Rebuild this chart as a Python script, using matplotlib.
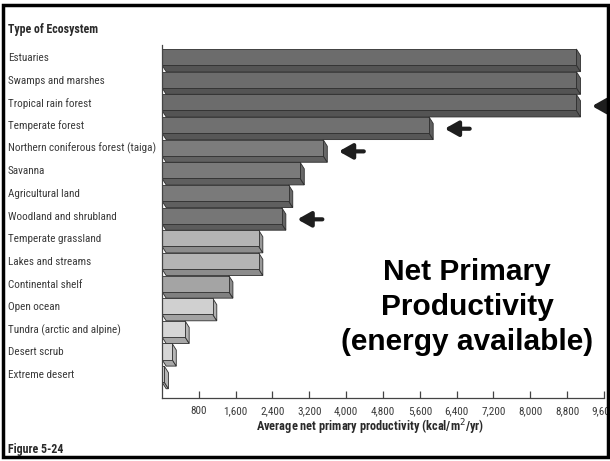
import matplotlib
matplotlib.use("Agg")
import matplotlib.pyplot as plt
from matplotlib import font_manager
from matplotlib.patches import Polygon, Rectangle

# Ecosystem types and their average net primary productivity (kcal/m^2/yr)
ecosystems = [
    "Estuaries",
    "Swamps and marshes",
    "Tropical rain forest",
    "Temperate forest",
    "Northern coniferous forest (taiga)",
    "Savanna",
    "Agricultural land",
    "Woodland and shrubland",
    "Temperate grassland",
    "Lakes and streams",
    "Continental shelf",
    "Open ocean",
    "Tundra (arctic and alpine)",
    "Desert scrub",
    "Extreme desert",
]
npp = [9000, 9000, 9000, 5800, 3500, 3000, 2750, 2600,
       2100, 2100, 1450, 1100, 500, 220, 50]

# Bar shading: front face colour per ecosystem
front_colors = ["#6c6c6c", "#6c6c6c", "#6c6c6c", "#707070", "#7c7c7c",
                "#7a7a7a", "#7a7a7a", "#767676",
                "#b4b4b4", "#b4b4b4", "#a4a4a4", "#d0d0d0",
                "#d6d6d6", "#d6d6d6", "#d6d6d6"]

# Ecosystems flagged with an arrow
highlighted = ["Tropical rain forest", "Temperate forest",
               "Northern coniferous forest (taiga)", "Woodland and shrubland"]

xticks = [800, 1600, 2400, 3200, 4000, 4800, 5600, 6400, 7200, 8000, 8800, 9600]
xtick_labels = ["800", "1,600", "2,400", "3,200", "4,000", "4,800", "5,600",
                "6,400", "7,200", "8,000", "8,800", "9,600"]

W, H = 610, 461


def pick_narrow_font():
    """Return (family, stretch, size_scale) for a condensed sans face."""
    names = {(f.name, str(f.stretch)) for f in font_manager.fontManager.ttflist}
    plain = {n for n, _ in names}
    for cand in ("Liberation Sans Narrow", "Roboto Condensed",
                 "Open Sans Condensed", "Noto Sans Condensed",
                 "Arial Narrow", "Nimbus Sans Narrow"):
        if cand in plain:
            return cand, "normal", 1.0
    for n, s in names:
        if n == "DejaVu Sans" and s in ("condensed", "semi-condensed", "500", "600"):
            return "DejaVu Sans", "condensed", 0.95
    return "Liberation Sans", "normal", 0.86


NARROW, STRETCH, SCALE = pick_narrow_font()
TXT = dict(family=[NARROW, "DejaVu Sans"], fontstretch=STRETCH)
FS = 8.6 * SCALE
FS_CAT = 8.0 * SCALE


def shade(hex_color, f):
    r, g, b = matplotlib.colors.to_rgb(hex_color)
    return (r * f, g * f, b * f)


fig = plt.figure(figsize=(W / 100, H / 100), dpi=100)
fig.patch.set_facecolor("white")

# axes in pixel terms: x 162..604, y 45..398 (from top)
ax_left, ax_right, ax_top, ax_bottom = 162, 604, 45, 398
ax = fig.add_axes([ax_left / W, 1 - ax_bottom / H,
                   (ax_right - ax_left) / W, (ax_bottom - ax_top) / H])
ax.set_xlim(0, 9600)
row0 = 49  # pixel of first bar top
pitch = 22.65
ax.set_ylim((ax_bottom - row0) / pitch, (ax_top - row0) / pitch)
ax.patch.set_alpha(0)

front_h = 0.71
depth_y = 0.29
depth_x = 90

for i, (name, v, c) in enumerate(zip(ecosystems, npp, front_colors)):
    yt = i
    yb = i + front_h
    bottom = Polygon([(0, yb), (v, yb), (v + depth_x, yb + depth_y),
                      (depth_x, yb + depth_y)], closed=True,
                     facecolor=shade(c, 0.78), edgecolor="#2e2e2e", lw=0.6)
    side = Polygon([(v, yt), (v + depth_x, yt + depth_y),
                    (v + depth_x, yb + depth_y), (v, yb)], closed=True,
                   facecolor=shade(c, 0.85), edgecolor="#2e2e2e", lw=0.6)
    front = Rectangle((0, yt), v, front_h, facecolor=c,
                      edgecolor="#2e2e2e", lw=0.6)
    for p in (bottom, side, front):
        ax.add_patch(p)
    # category label
    fig.text(8 / W, 1 - (row0 + pitch * i + 9) / H, name, ha="left",
             va="center", fontsize=FS_CAT, color="#3a3a3a", **TXT)
    if name in highlighted:
        ax.annotate("", xy=(v + depth_x + 250, i + 0.52), xycoords="data",
                    xytext=(18, 0), textcoords="offset points",
                    arrowprops=dict(arrowstyle="-|>,head_length=0.8,head_width=0.45",
                                    lw=3, color="#1e1e1e",
                                    mutation_scale=10, shrinkA=0, shrinkB=0))

for s in ("top", "right"):
    ax.spines[s].set_visible(False)
ax.spines["left"].set_color("#444444")
ax.spines["bottom"].set_color("#444444")
ax.spines["left"].set_linewidth(0.9)
ax.spines["bottom"].set_linewidth(0.9)
ax.set_yticks([])
ax.set_xticks(xticks)
ax.set_xticklabels(xtick_labels, fontsize=FS_CAT, color="#3a3a3a", **TXT)
ax.tick_params(axis="x", direction="in", length=5, width=0.9,
               color="#444444", pad=6)
ax.set_xlabel("Average net primary productivity (kcal/m$^2$/yr)",
              fontsize=FS * 1.04, fontweight="bold", color="#2a2a2a", **TXT)
ax.xaxis.set_label_coords((370 - ax_left) / (ax_right - ax_left), -0.055)

fig.text(8 / W, 1 - 30 / H, "Type of Ecosystem", fontsize=FS,
         fontweight="bold", color="#2a2a2a", va="center", **TXT)
fig.text(8 / W, 1 - 449 / H, "Figure 5-24", fontsize=FS,
         fontweight="bold", color="#2a2a2a", va="center", **TXT)

fig.text(467 / W, 1 - 307 / H, "Net Primary\nProductivity\n(energy available)",
         ha="center", va="center", fontsize=21.5, fontweight="bold",
         color="black", family=["Liberation Sans", "DejaVu Sans"],
         linespacing=1.32)

# outer frame
fig.add_artist(Rectangle((3 / W, 1 - 457 / H), 605 / W, 452 / H,
                         transform=fig.transFigure, fill=False,
                         edgecolor="black", lw=2.5))

fig.savefig("out.png", dpi=100)
